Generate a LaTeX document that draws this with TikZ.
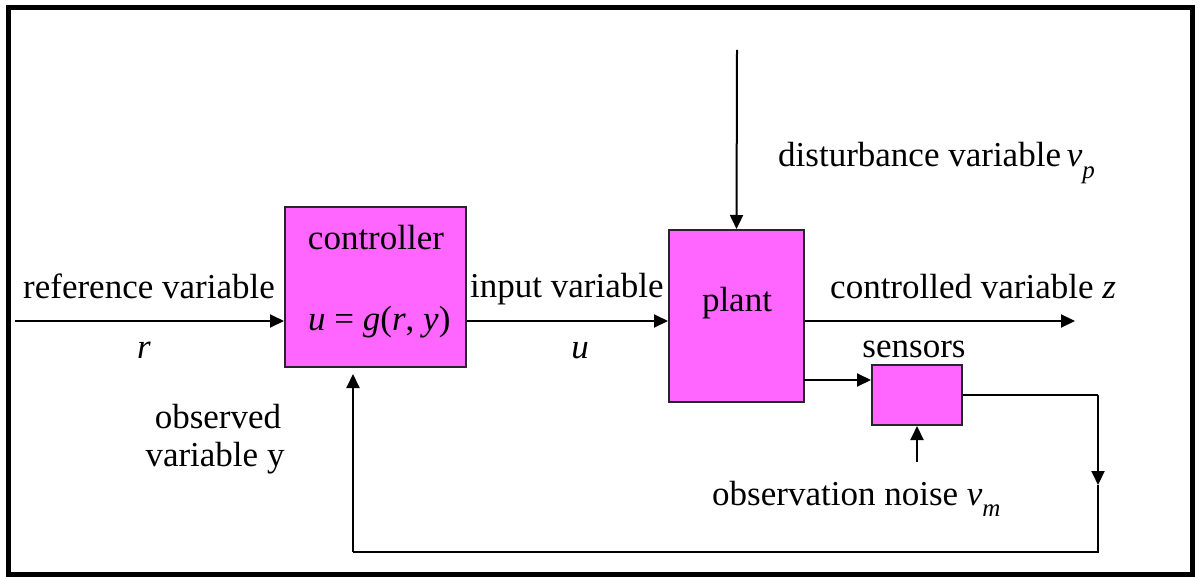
\documentclass[tikz,border=0pt]{standalone}
\usepackage{fontspec}
\setmainfont{Liberation Serif}
\newfontfamily\tnr{Liberation Serif}
\usetikzlibrary{arrows.meta}
\definecolor{boxfill}{RGB}{255,102,255}
\tikzset{
  blk/.style={draw=black!85, line width=2pt, fill=boxfill, inner sep=0pt},
  conn/.style={line width=2pt, draw=black},
  arr/.style={conn, -{Triangle[length=14pt,width=13pt]}},
  lbl/.style={inner sep=0pt, anchor=base west},
  lblc/.style={inner sep=0pt, anchor=base},
}
\newcommand{\sbp}[1]{\raisebox{-0.32em}{\fontsize{25}{25}\selectfont\itshape #1}}
\begin{document}
\begin{tikzpicture}[x=1pt,y=-1pt, every node/.append style={font=\tnr\fontsize{35}{38}\selectfont}]
\useasboundingbox (0,0) rectangle (1201,577);
\draw[line width=5pt] (8.5,7.5) rectangle (1192.5,574);
% blocks
\node[blk, minimum width=181pt, minimum height=160pt] (ctrl) at (375.5,287) {};
\node[blk, minimum width=135pt, minimum height=172pt] (plant) at (736.5,316) {};
\node[blk, minimum width=90pt, minimum height=60pt] (sens) at (917,395) {};
% coordinates
\coordinate (refstart) at (15,321);
\coordinate (zend) at (1075,321);
\coordinate (ps) at (804,380);
\coordinate (fb1) at (1098,395);
\coordinate (fbmid) at (1098,485);
\coordinate (fb2) at (1098,552);
\coordinate (fb3) at (353,552);
\coordinate (noise) at (917,462);
\coordinate (dist) at (737,50);
% connectors
\draw[arr] (refstart) -- (refstart -| ctrl.west);
\draw[arr] (refstart -| ctrl.east) -- (refstart -| plant.west);
\draw[arr] (refstart -| plant.east) -- (zend);
\draw[arr] (ps) -- (ps -| sens.west);
\draw[conn] (sens.east |- fb1) -- (fb1);
\draw[arr] (fb1) -- (fbmid);
\draw[conn] (fbmid) -- (fb2) -- (fb3);
\draw[arr, shorten >=6pt] (fb3) -- (fb3 |- ctrl.south);
\draw[arr] (noise) -- (sens.south);
\draw[arr] (dist) -- (plant.north);
% labels
\node[lbl] (lref) at (23,298) {reference variable};
\node[lblc] (lr) at (144,358) {\itshape r};
\node[lblc] (lctrl) at (376,250) {controller};
\node[lbl] (lg) at (308,330) {\itshape u\upshape{} = \itshape g\upshape(\itshape r\upshape, \itshape y\upshape)};
\node[lbl] (lin) at (470,297) {input variable};
\node[lblc] (lu) at (580,358) {\itshape u};
\node[lblc] (lplant) at (737,311) {plant};
\node[lbl] (lz) at (830,298) {controlled variable \itshape z};
\node[lbl] (ldist) at (778,167) {disturbance variable\,\itshape v\sbp{p}};
\node[lblc] (lsens) at (914,357) {sensors};
\node[lbl] (lnoise) at (712,505) {observation noise \itshape v\sbp{m}};
\node[lblc] (lobs1) at (218,428) {observed};
\node[lblc] (lobs2) at (215,466) {variable y};
\end{tikzpicture}
\end{document}
